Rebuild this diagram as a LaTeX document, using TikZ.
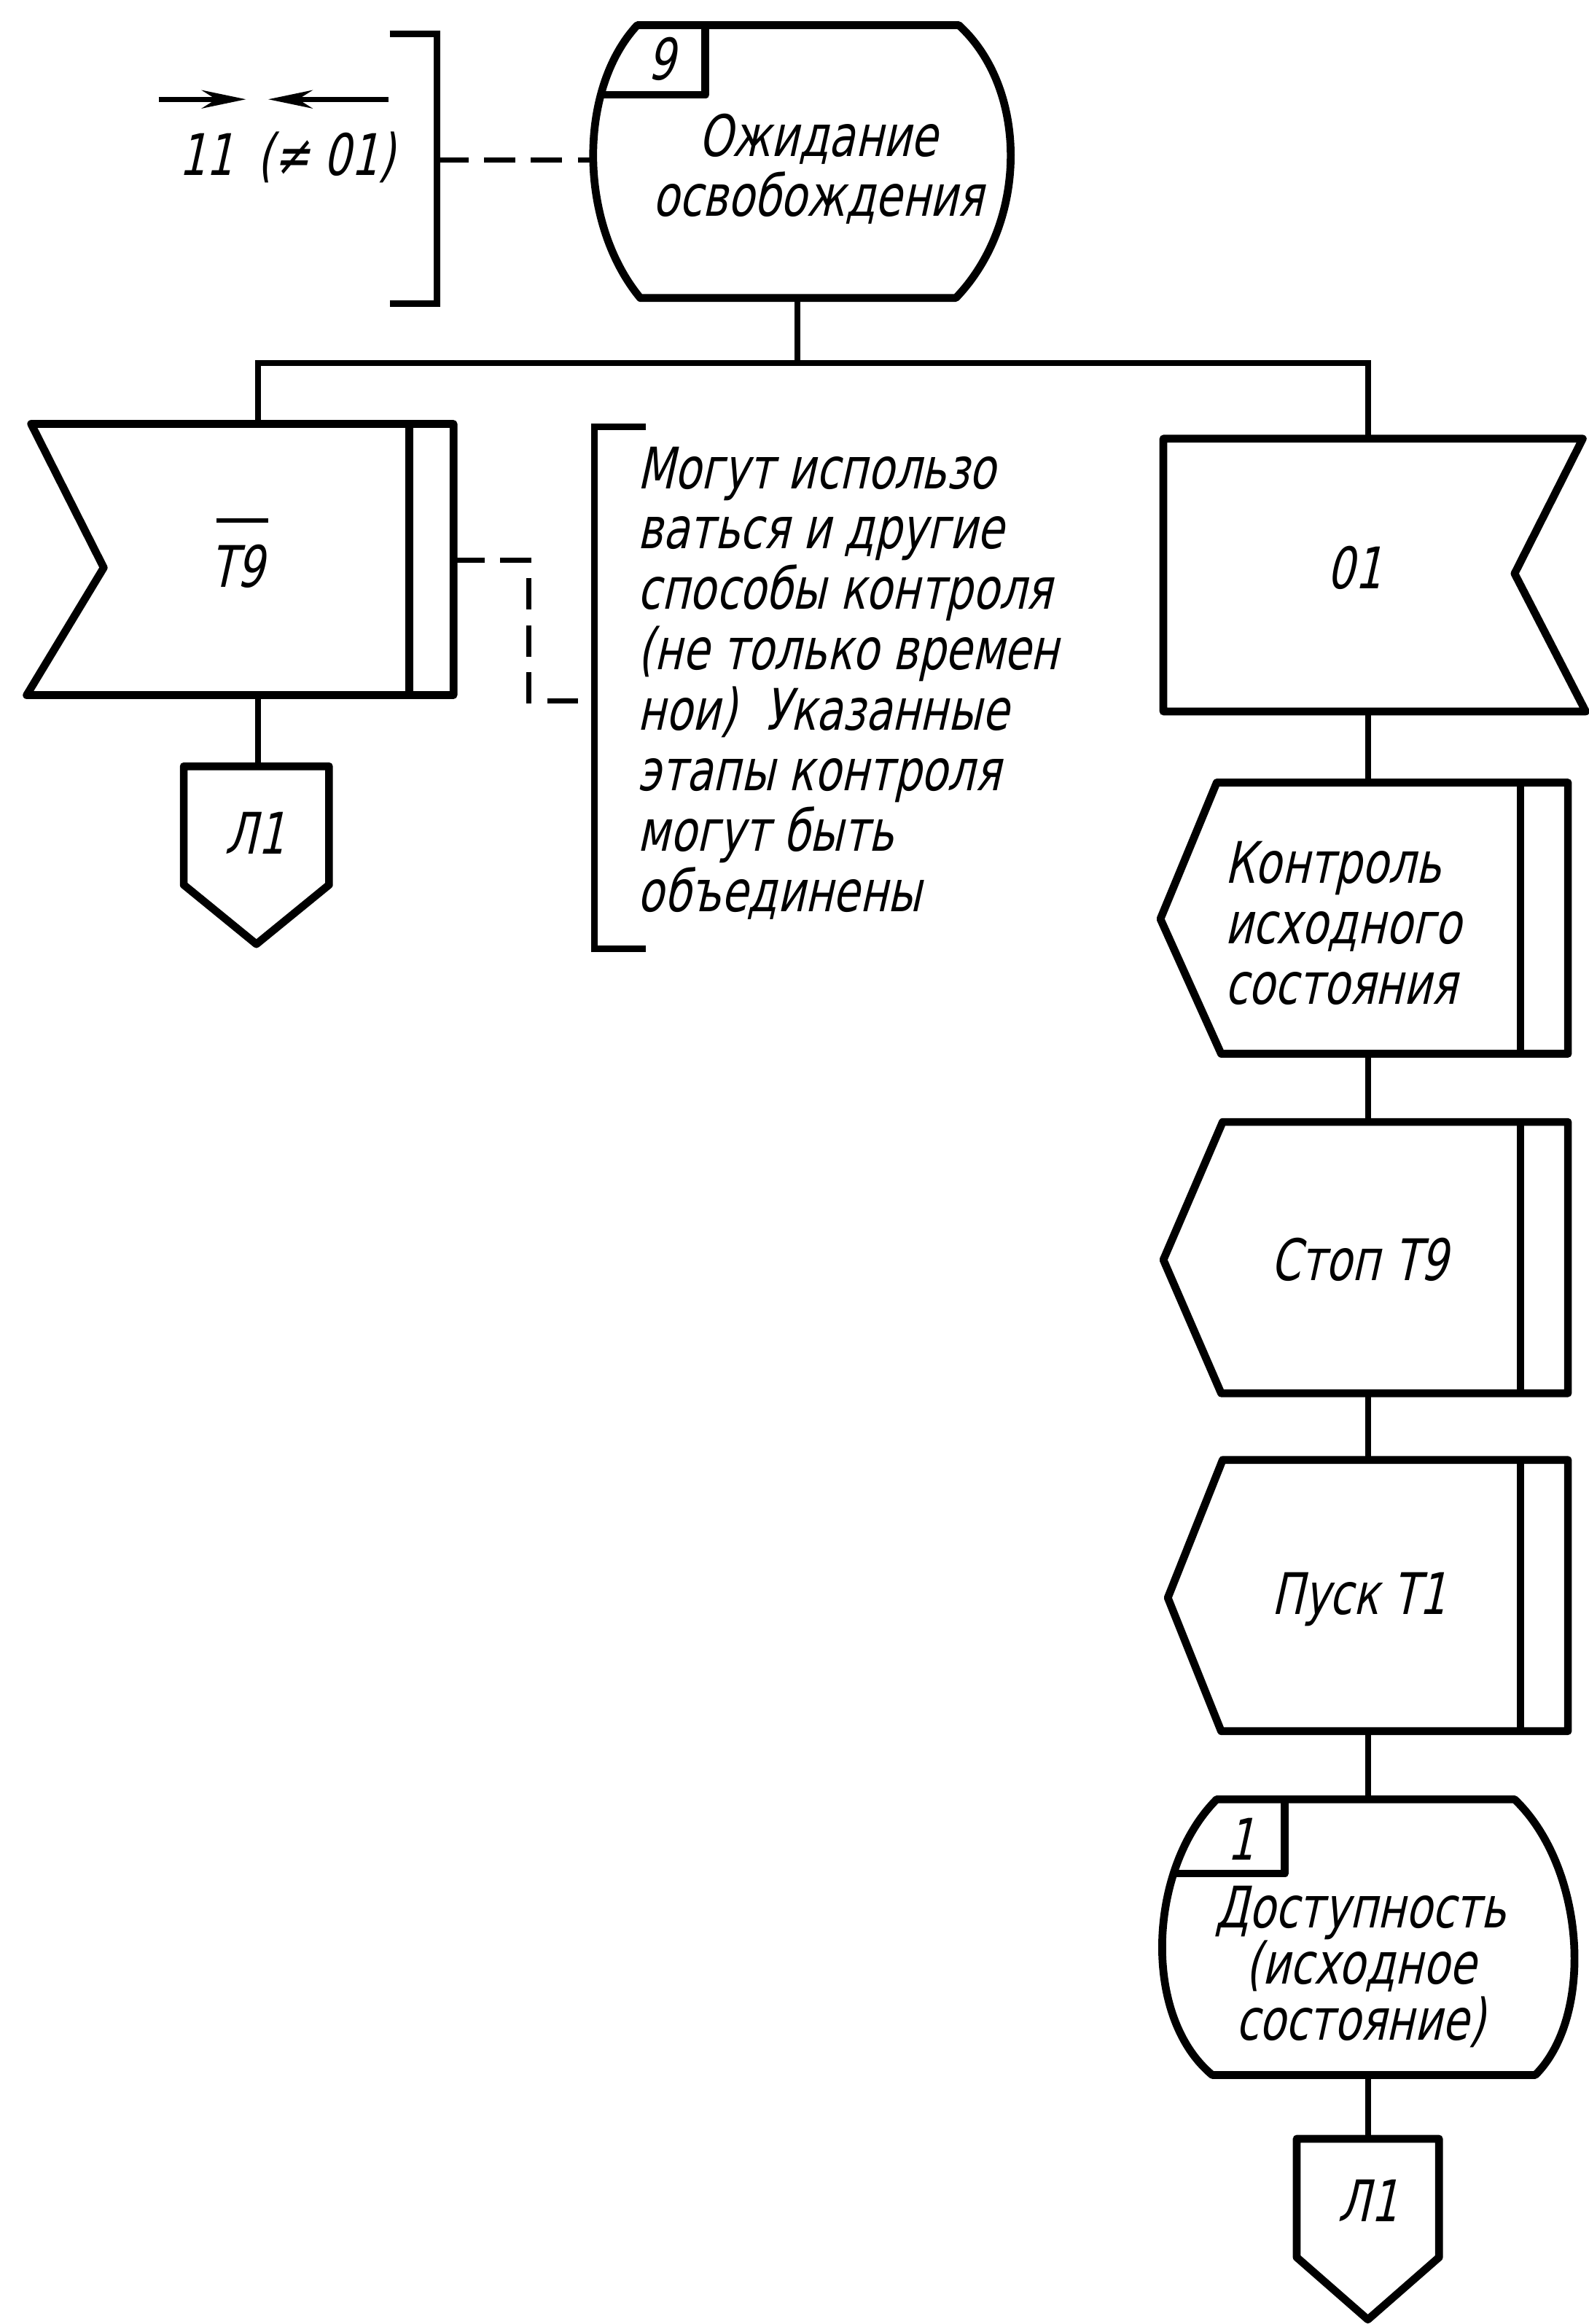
\documentclass[tikz,border=0pt]{standalone}
\usepackage{fontspec}
\newfontfamily\gost[FakeSlant=0.22,FakeStretch=0.75]{DejaVu Sans}
\usetikzlibrary{arrows.meta}
\begin{document}
\begin{tikzpicture}[x=0.02cm,y=-0.02cm,
  outl/.style={line width=3pt, line join=round},
  conn/.style={line width=2.2pt},
  dconn/.style={line width=2pt, dash pattern=on 12pt off 6pt},
  brk/.style={line width=2.5pt},
  txt/.style={font=\gost\fontsize{22}{22.8}\selectfont, inner sep=0pt, align=center},
  ctxt/.style={font=\gost\fontsize{22}{23.2}\selectfont, inner sep=0pt, align=left},
  ovarrow/.style={line width=2pt, -{Stealth[length=17pt,width=7pt]}},
]
\useasboundingbox[fill=white] (0,0) rectangle (1072,1568);

% ---------- state 9 ----------
\draw[outl] (430,17) -- (647,17) .. controls (694,60) and (694,150) .. (645,201)
  -- (432,201) .. controls (390,150) and (390,60) .. (430,17) -- cycle;
\begin{scope}
  \clip (430,17) -- (647,17) .. controls (694,60) and (694,150) .. (645,201)
  -- (432,201) .. controls (390,150) and (390,60) .. (430,17) -- cycle;
  \draw[outl] (370,64) -- (476,64) -- (476,5);
\end{scope}
\node[txt] (n9) at (446,40) {9};
\node[txt] (s9txt) at (552,114) {Ожидание\\освобождения};
\coordinate (s9w) at (400,108);
\coordinate (s9s) at (538,201);

% ---------- bracket and annotation at top left ----------
\coordinate (brt) at (263,23);
\coordinate (brb) at (263,205);
\coordinate (brm) at (295,108);
\draw[brk] (brt) -- (295,23) -- (295,205) -- (brb);
\draw[dconn] (brm) -- (s9w);
\node[txt] (n11) at (139,104) {11};
\node[txt] (nne) at (220,106) {(≠ 01)};
\coordinate (ar1a) at (107,67);
\coordinate (ar1b) at (166,67);
\coordinate (ar2a) at (262,67);
\coordinate (ar2b) at (181,67);
\draw[ovarrow] (ar1a) -- (ar1b);
\draw[ovarrow] (ar2a) -- (ar2b);

% ---------- bus ----------
\coordinate (bus) at (538,245);
\coordinate (t9n) at (174,286);
\coordinate (o1n) at (923,296);
\draw[conn] (s9s) -- (bus);
\draw[conn] (t9n) |- (bus) -| (o1n);

% ---------- T9 input (left) ----------
\draw[outl] (21,286) -- (306,286) -- (306,469) -- (18,469) -- (70,383) -- cycle;
\draw[outl] (276,286) -- (276,469);
\node[txt] (t9lbl) at (160,382) {T9};
\coordinate (ovl1) at (146,351);
\coordinate (ovl2) at (181,351);
\draw[line width=1.6pt] (ovl1) -- (ovl2);
\coordinate (t9s) at (174,469);
\coordinate (t9e) at (306,378);

% ---------- connector L1 (left) ----------
\draw[outl] (124,517) -- (222,517) -- (222,597) -- (173,637) -- (124,597) -- cycle;
\coordinate (l1an) at (174,517);
\node[txt] (l1albl) at (172,562) {Л1};
\draw[conn] (t9s) -- (l1an);

% ---------- comment ----------
\coordinate (cbr) at (401,473);
\draw[brk] (436,288) -- (401,288) -- (401,640) -- (436,640);
\draw[dconn] (t9e) -- (357,378) |- (cbr);
\node[ctxt, anchor=north west] (cmt) at (430,301)
  {Могут использо\\ваться и другие\\способы контроля\\(не только времен\\нои)\ \ Указанные\\этапы контроля\\могут быть\\объединены};

% ---------- 01 input (right) ----------
\draw[outl] (785,296) -- (1068,296) -- (1022,387) -- (1070,480) -- (785,480) -- cycle;
\node[txt] (o1lbl) at (914,383) {01};
\coordinate (o1s) at (923,480);

% ---------- output: Контроль исходного состояния ----------
\draw[outl] (821,528) -- (1058,528) -- (1058,711) -- (824,711) -- (783,620) -- cycle;
\draw[outl] (1026,528) -- (1026,711);
\coordinate (k1n) at (923,528);
\coordinate (k1s) at (923,711);
\node[ctxt, anchor=west] (k1txt) at (826,623) {Контроль\\исходного\\состояния};
\draw[conn] (o1s) -- (k1n);

% ---------- output: Стоп T9 ----------
\draw[outl] (825,757) -- (1058,757) -- (1058,940) -- (824,940) -- (785,850) -- cycle;
\draw[outl] (1026,757) -- (1026,940);
\coordinate (k2n) at (923,757);
\coordinate (k2s) at (923,940);
\node[txt] (k2txt) at (917,850) {Стоп T9};
\draw[conn] (k1s) -- (k2n);

% ---------- output: Пуск T1 ----------
\draw[outl] (825,985) -- (1058,985) -- (1058,1168) -- (824,1168) -- (788,1078) -- cycle;
\draw[outl] (1026,985) -- (1026,1168);
\coordinate (k3n) at (923,985);
\coordinate (k3s) at (923,1168);
\node[txt] (k3txt) at (917,1079) {Пуск T1};
\draw[conn] (k2s) -- (k3n);

% ---------- state 1 ----------
\draw[outl] (821,1214) -- (1022,1214) .. controls (1070,1260) and (1076,1360) .. (1036,1400)
  -- (818,1400) .. controls (770,1360) and (775,1260) .. (821,1214) -- cycle;
\begin{scope}
  \clip (821,1214) -- (1022,1214) .. controls (1070,1260) and (1076,1360) .. (1036,1400)
  -- (818,1400) .. controls (770,1360) and (775,1260) .. (821,1214) -- cycle;
  \draw[outl] (760,1264) -- (867,1264) -- (867,1200);
\end{scope}
\node[txt] (n1) at (837,1241) {1};
\node[txt, font=\gost\fontsize{22}{21.5}\selectfont] (s1txt) at (918,1327) {Доступность\\(исходное\\состояние)};
\coordinate (s1n) at (923,1214);
\coordinate (s1s) at (923,1400);
\draw[conn] (k3s) -- (s1n);

% ---------- connector L1 (bottom) ----------
\draw[outl] (875,1443) -- (971,1443) -- (971,1523) -- (923,1565) -- (875,1523) -- cycle;
\coordinate (l1bn) at (923,1443);
\node[txt] (l1blbl) at (923,1485) {Л1};
\draw[conn] (s1s) -- (l1bn);
\end{tikzpicture}
\end{document}
